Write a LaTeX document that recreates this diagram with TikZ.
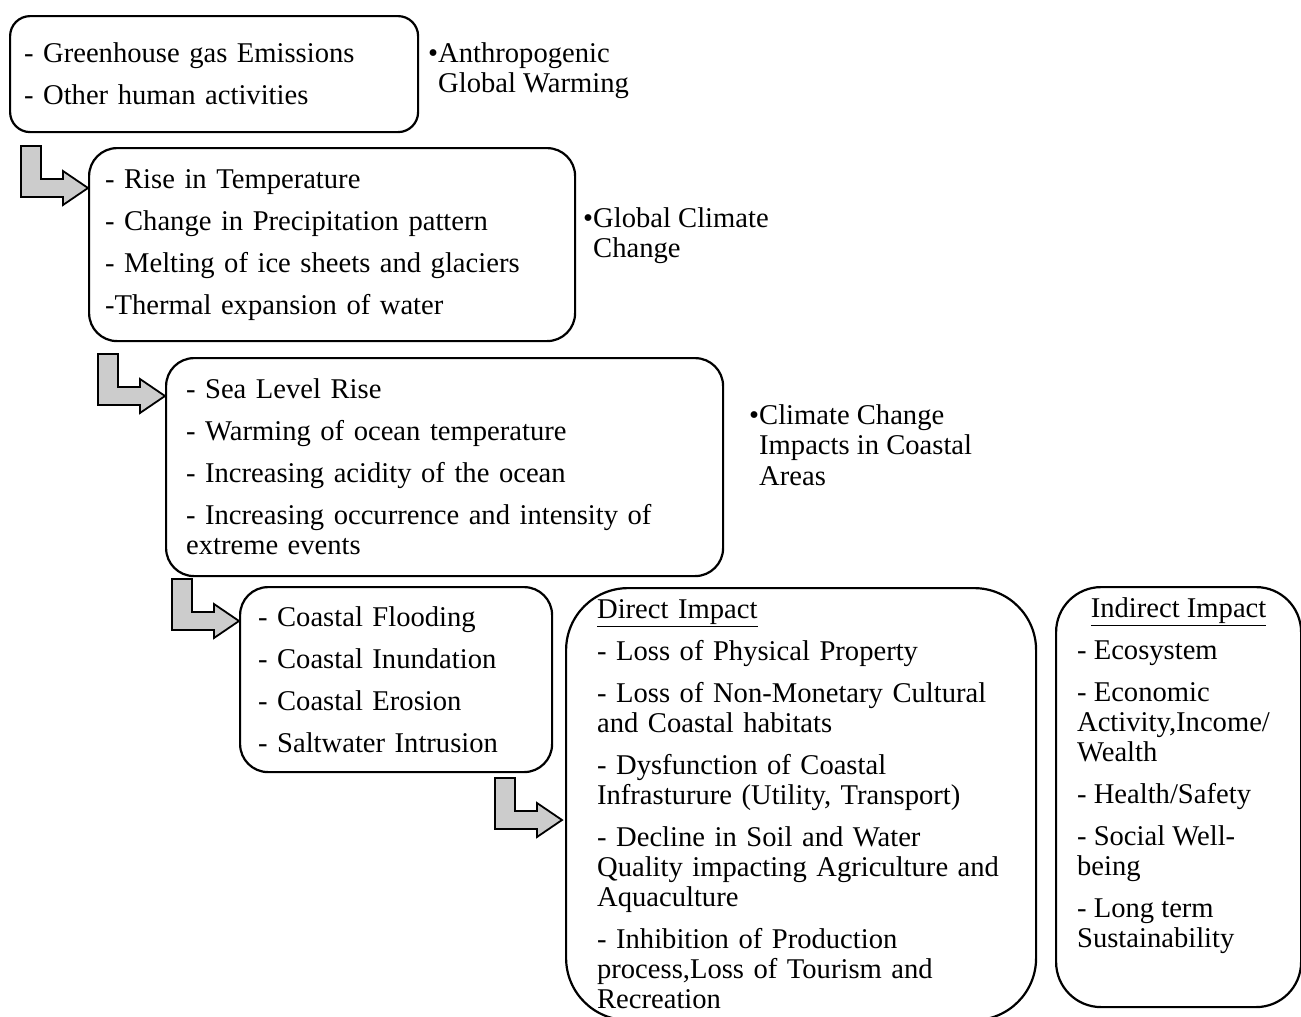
\documentclass[tikz,border=0pt]{standalone}
\usepackage{fontspec}
\setmainfont{Liberation Serif}
\usetikzlibrary{positioning}
\usetikzlibrary{calc}

\tikzset{
	box/.style={draw, line width=2.2pt, rounded corners=28pt, align=left, anchor=north west, inner ysep=0pt, font=\fontsize{28.6}{30}\selectfont},
	tag/.style={align=left, anchor=north west, inner sep=0pt, font=\fontsize{28.6}{30.5}\selectfont},
	bent/.style={draw, line width=1.8pt, fill=gray!40, line join=miter}
}
% L-shaped block arrow, tip at #1
\newcommand{\bentarrow}[1]{%
	\draw[bent] (#1) -- ++(-25,-17) -- ++(0,8) -- ++(-22,0) -- ++(0,-33) -- ++(-20,0) -- ++(0,51) -- ++(42,0) -- ++(0,8) -- cycle;
}

\begin{document}
\begin{tikzpicture}[x=1pt, y=-1pt]
	\useasboundingbox (0,0) rectangle (1301,1017);

	% Stages, top to bottom
	\node[box, rounded corners=20pt, text width=380pt, inner xsep=14pt, minimum height=116pt] (cause) at (9,15) {- Greenhouse gas Emissions\\[12pt]- Other human activities};
	\node[tag] (tag1) at (438,42) {\llap{\textbullet}Anthropogenic\\Global Warming};

	\node[box, text width=454pt, inner xsep=16pt, minimum height=193pt] (climate) at (88,147) {- Rise in Temperature\\[12pt]- Change in Precipitation pattern\\[12pt]- Melting of ice sheets and glaciers\\[12pt]-Thermal expansion of water};
	\node[tag] (tag2) at (593,207) {\llap{\textbullet}Global Climate\\Change};

	\node[box, text width=517pt, inner xsep=20pt, minimum height=218pt] (coast) at (165,357) {- Sea Level Rise\\[12pt]- Warming of ocean temperature\\[12pt]- Increasing acidity of the ocean\\[12pt]- Increasing occurrence and intensity of\\extreme events};
	\node[tag] (tag3) at (759,404) {\llap{\textbullet}Climate Change\\Impacts in Coastal\\Areas};

	\node[box, text width=276pt, inner xsep=18pt, minimum height=185pt] (hazard) at (239,586) {- Coastal Flooding\\[12pt]- Coastal Inundation\\[12pt]- Coastal Erosion\\[12pt]- Saltwater Intrusion};

	% Impacts
	\node[box, rounded corners=62pt, text width=408pt, inner xsep=31pt, minimum height=432pt] (direct) at (565,587) {\underline{Direct Impact}\\[12pt]- Loss of Physical Property\\[12pt]- Loss of Non-Monetary Cultural\\and Coastal habitats\\[12pt]- Dysfunction of Coastal\\Infrasturure (Utility, Transport)\\[12pt]- Decline in Soil and Water\\Quality impacting Agriculture and\\Aquaculture\\[12pt]- Inhibition of Production\\process,Loss of Tourism and\\Recreation};
	\node[box, rounded corners=45pt, inner sep=0pt, minimum width=245pt, minimum height=420pt] (indirect) at (1055,586) {\parbox[c][398pt][t]{203pt}{{\centering\underline{Indirect Impact}\par}\vspace{12pt}\raggedright - Ecosystem\\[12pt]- Economic\\Activity,Income/\\Wealth\\[12pt]- Health/Safety\\[12pt]- Social Well-\\being\\[12pt]- Long term\\Sustainability}};

	% Arrow tips on the boxes
	\coordinate (tip1) at ([yshift=-41pt]climate.north west);
	\coordinate (tip2) at ([yshift=-39pt]coast.north west);
	\coordinate (tip3) at ([yshift=-35pt]hazard.north west);
	\coordinate (tip4) at ([xshift=-3pt,yshift=-233pt]direct.north west);

	\foreach \t in {tip1,tip2,tip3,tip4} {
		\bentarrow{\t}
	}
\end{tikzpicture}
\end{document}
